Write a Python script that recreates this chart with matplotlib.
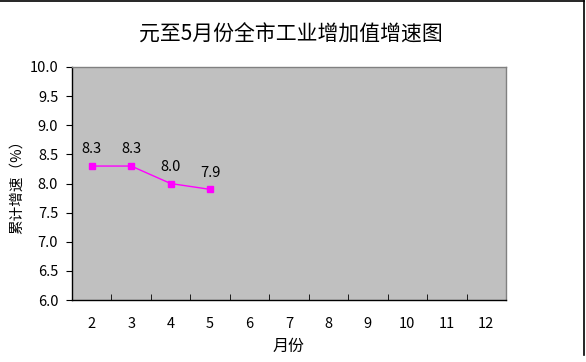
import matplotlib.pyplot as plt
from matplotlib.lines import Line2D

plt.rcParams['font.family'] = ['Noto Sans CJK SC', 'DejaVu Sans']

months = ['2', '3', '4', '5', '6', '7', '8', '9', '10', '11', '12']
growth = [8.3, 8.3, 8.0, 7.9]
labels = ['8.3', '8.3', '8.0', '7.9']

fig = plt.figure(figsize=(5.86, 3.62), dpi=100)
ax = fig.add_axes([0.1229, 0.171, 0.7406, 0.644])
ax.set_facecolor('#c0c0c0')

xs = list(range(len(growth)))
ax.plot(xs, growth, color='#ff00ff', lw=1, marker='s', ms=5,
        markerfacecolor='#ff00ff', markeredgecolor='#ff00ff')
for x, y, t in zip(xs, growth, labels):
    ax.annotate(t, (x, y), xytext=(0, 7), textcoords='offset points',
                ha='center', va='bottom', fontsize=10.5)

ax.set_xlim(-0.5, len(months) - 0.5)
ax.set_ylim(6.0, 10.0)
ax.set_xticks(range(len(months)))
ax.set_xticklabels(months)
ax.set_xticks([i + 0.5 for i in range(len(months) - 1)], minor=True)
ax.tick_params(axis='x', which='major', length=0, pad=12, labelsize=10.5)
ax.tick_params(axis='x', which='minor', length=4, direction='in', color='black')
ax.set_yticks([6.0 + 0.5 * i for i in range(9)])
ax.set_yticklabels(['%.1f' % (6.0 + 0.5 * i) for i in range(9)])
ax.tick_params(axis='y', length=4, direction='out', labelsize=10.5, pad=6)

for s in ['left', 'bottom']:
    ax.spines[s].set_color('black')
    ax.spines[s].set_linewidth(1)
for s in ['top', 'right']:
    ax.spines[s].set_color('#808080')
    ax.spines[s].set_linewidth(1)

ax.set_xlabel('月份', fontsize=11.5, labelpad=5)
ax.set_ylabel('累计增速（%）', fontsize=10.5, labelpad=4)
fig.text(0.497, 0.905, '元至5月份全市工业增加值增速图', ha='center', va='center', fontsize=15)

# outer frame (top and right edges)
fig.add_artist(Line2D([0, 0.997], [0.996, 0.996], color='black', lw=1.2, transform=fig.transFigure))
fig.add_artist(Line2D([0.997, 0.997], [0.02, 0.996], color='black', lw=1.2, transform=fig.transFigure))

fig.savefig('out.png', dpi=100)
